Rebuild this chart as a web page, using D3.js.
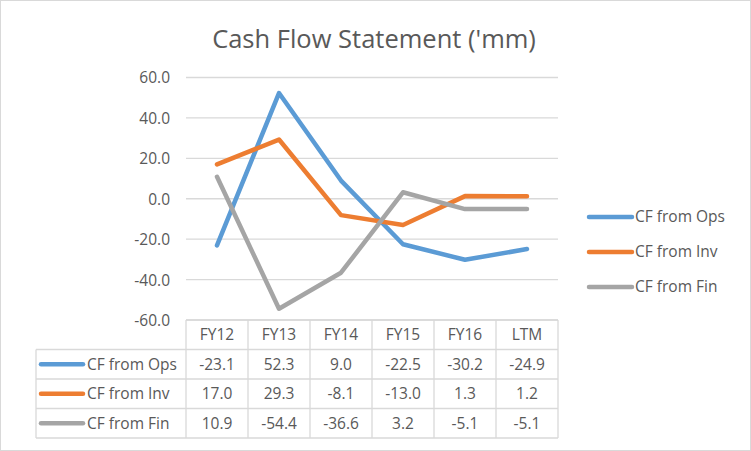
<!DOCTYPE html>
<html>
<head>
<meta charset="utf-8">
<script src="https://cdn.jsdelivr.net/npm/d3@7"></script>
<style>
  body { margin: 0; background: #fff; }
  text { font-family: "Open Sans", "Noto Sans", sans-serif; fill: #595959; }
</style>
</head>
<body>
<div id="container"><svg></svg></div>
<script>
let width = 751
let height = 451
let font_size = '15.5px'

let categories = ['FY12', 'FY13', 'FY14', 'FY15', 'FY16', 'LTM']
let series_names = ['CF from Ops', 'CF from Inv', 'CF from Fin']
let ops = [-23.1, 52.3, 9.0, -22.5, -30.2, -24.9]
let inv = [17.0, 29.3, -8.1, -13.0, 1.3, 1.2]
let fin = [10.9, -54.4, -36.6, 3.2, -5.1, -5.1]
let y_ticks = [60, 40, 20, 0, -20, -40, -60]
let colors = ['#5b9bd5', '#ed7d31', '#a5a5a5']

let series = [ops, inv, fin]

// excel style number, plain hyphen for minus
let fmt = d => d3.format('.1f')(d).replace('\u2212', '-')

let svg = d3.select('#container').select('svg')
    .attr('width', width)
    .attr('height', height)

// chart border
svg.append('rect')
    .attr('x', 0.5).attr('y', 0.5)
    .attr('width', width - 1).attr('height', height - 1)
    .attr('fill', '#fff')
    .attr('stroke', '#d9d9d9')

// title
svg.append('text')
    .attr('x', 374)
    .attr('y', 48)
    .attr('text-anchor', 'middle')
    .attr('font-size', '25.5px')
    .text("Cash Flow Statement ('mm)")

let x = d3.scaleBand()
    .domain(categories)
    .range([186, 558])

let y = d3.scaleLinear()
    .domain([-60, 60])
    .range([320, 77.5])

// gridlines
svg.append('g')
    .selectAll('line')
    .data(y_ticks)
    .enter().append('line')
    .attr('x1', 186).attr('x2', 558)
    .attr('y1', d => y(d)).attr('y2', d => y(d))
    .attr('stroke', '#d9d9d9')
    .attr('stroke-width', 1.3)

// y axis labels
let axis_y = d3.axisLeft(y)
    .tickValues(y_ticks)
    .tickFormat(fmt)
    .tickSize(0)
    .tickPadding(0)
let gy = svg.append('g')
    .attr('transform', `translate(170, 0)`)
    .call(axis_y)
gy.select('.domain').remove()
gy.selectAll('text')
    .attr('font-family', '"Open Sans", sans-serif')
    .attr('font-size', font_size)
    .attr('fill', '#595959')
    .attr('dy', '0.35em')

// lines
let line = d3.line()
    .x((d, i) => x(categories[i]) + x.bandwidth() / 2)
    .y(d => y(d))

svg.append('g')
    .selectAll('path')
    .data(series)
    .enter().append('path')
    .attr('d', d => line(d))
    .attr('fill', 'none')
    .attr('stroke', (d, i) => colors[i])
    .attr('stroke-width', 4.5)
    .attr('stroke-linejoin', 'round')
    .attr('stroke-linecap', 'round')

// legend
let legend = svg.append('g')
    .selectAll('g')
    .data(series_names)
    .enter().append('g')
    .attr('transform', (d, i) => `translate(589, ${217 + i * 35})`)
legend.append('line')
    .attr('x1', 0).attr('x2', 43)
    .attr('stroke', (d, i) => colors[i])
    .attr('stroke-width', 4.5)
    .attr('stroke-linecap', 'round')
legend.append('text')
    .attr('x', 46)
    .attr('dy', '0.35em')
    .attr('font-size', font_size)
    .text(d => d)

// data table
let table_top = y(-60)
let row_h = 29.5
let table_left = 36
let tbl = svg.append('g')

// horizontal lines
tbl.selectAll('line.h')
    .data([0, 1, 2, 3, 4])
    .enter().append('line')
    .attr('x1', d => d === 0 ? x.range()[0] : table_left)
    .attr('x2', x.range()[1])
    .attr('y1', d => table_top + d * row_h)
    .attr('y2', d => table_top + d * row_h)
    .attr('stroke', '#d9d9d9')
    .attr('stroke-width', 1.3)

// vertical lines
let v_pos = categories.map(c => x(c)).concat([x.range()[1]])
tbl.selectAll('line.v')
    .data(v_pos)
    .enter().append('line')
    .attr('x1', d => d).attr('x2', d => d)
    .attr('y1', table_top)
    .attr('y2', table_top + 4 * row_h)
    .attr('stroke', '#d9d9d9')
    .attr('stroke-width', 1.3)
tbl.append('line')
    .attr('x1', table_left).attr('x2', table_left)
    .attr('y1', table_top + row_h)
    .attr('y2', table_top + 4 * row_h)
    .attr('stroke', '#d9d9d9')
    .attr('stroke-width', 1.3)

// header
tbl.selectAll('text.head')
    .data(categories)
    .enter().append('text')
    .attr('x', d => x(d) + x.bandwidth() / 2)
    .attr('y', table_top + row_h / 2)
    .attr('dy', '0.35em')
    .attr('text-anchor', 'middle')
    .attr('font-size', font_size)
    .text(d => d)

// rows
series.forEach((s, si) => {
    let cy = table_top + (si + 1) * row_h + row_h / 2
    tbl.append('line')
        .attr('x1', 41).attr('x2', 83)
        .attr('y1', cy).attr('y2', cy)
        .attr('stroke', colors[si])
        .attr('stroke-width', 4.5)
        .attr('stroke-linecap', 'round')
    tbl.append('text')
        .attr('x', 87)
        .attr('y', cy)
        .attr('dy', '0.35em')
        .attr('font-size', font_size)
        .text(series_names[si])
    tbl.selectAll('text.v' + si)
        .data(s)
        .enter().append('text')
        .attr('x', (d, i) => x(categories[i]) + x.bandwidth() / 2)
        .attr('y', cy)
        .attr('dy', '0.35em')
        .attr('text-anchor', 'middle')
        .attr('font-size', font_size)
        .text(d => fmt(d))
})
</script>
</body>
</html>
